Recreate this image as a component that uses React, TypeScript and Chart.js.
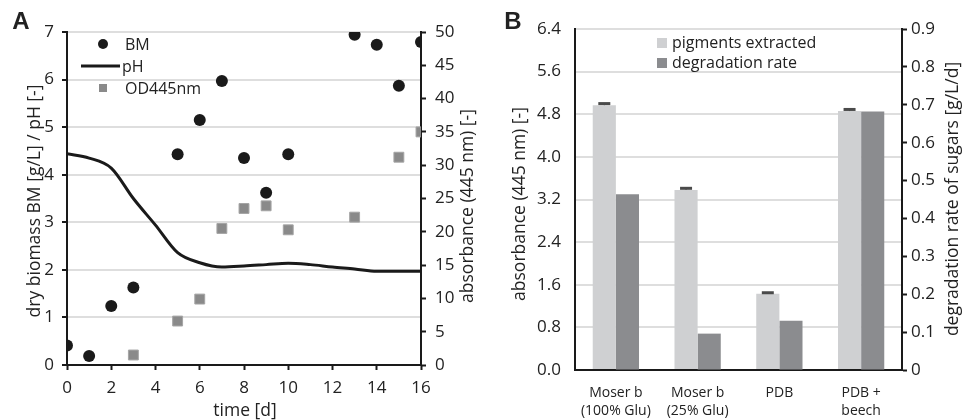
import React, { useEffect, useRef } from "react";
import { Chart, registerables } from "chart.js";
Chart.register(...registerables);

// ---------- Panel A data ----------
const bmDays = [0, 1, 2, 3, 5, 6, 7, 8, 9, 10, 13, 14, 15, 16];
const bmValues = [0.41, 0.19, 1.24, 1.63, 4.43, 5.15, 5.97, 4.35, 3.62, 4.43, 6.94, 6.73, 5.87, 6.79];
const phDays = [0, 1, 2, 3, 4, 5, 6, 7, 8, 9, 10, 11, 12, 13, 14, 15, 16];
const phValues = [4.44, 4.35, 4.14, 3.5, 2.94, 2.36, 2.15, 2.06, 2.08, 2.11, 2.14, 2.11, 2.06, 2.02, 1.97, 1.97, 1.97];
const odDays = [3, 5, 6, 7, 8, 9, 10, 13, 15, 16];
const odValues = [1.5, 6.6, 9.9, 20.5, 23.5, 23.9, 20.3, 22.2, 31.2, 35.0];

// ---------- Panel B data ----------
const media: (string | string[])[] = [["Moser b", "(100% Glu)"], ["Moser b", "(25% Glu)"], "PDB", ["PDB +", "beech"]];
const pigments = [4.97, 3.38, 1.43, 4.86];
const pigmentErr = [0.03, 0.03, 0.02, 0.03];
const degradation = [0.464, 0.096, 0.13, 0.682];

const FONT = "'Open Sans', sans-serif";
const TEXT = "#222222";
const AXIS = "#1a1a1a";
const GRID = "#dedede";
const LIGHT = "#cfd0d2";
const DARK = "#8b8c8f";

Chart.defaults.font.family = FONT;
Chart.defaults.color = TEXT;

type TextItem = { text: string; x: number; y: number; rot?: boolean; font: string; align?: CanvasTextAlign };

function textPlugin(id: string, items: TextItem[]) {
  return {
    id,
    afterDraw(chart: any) {
      const ctx = chart.ctx as CanvasRenderingContext2D;
      ctx.save();
      ctx.fillStyle = TEXT;
      ctx.textBaseline = "middle";
      for (const it of items) {
        ctx.save();
        ctx.font = it.font;
        ctx.textAlign = it.align || "center";
        ctx.translate(it.x, it.y);
        if (it.rot) ctx.rotate(-Math.PI / 2);
        ctx.fillText(it.text, 0, 0);
        ctx.restore();
      }
      ctx.restore();
    },
  };
}

const legendA = {
  id: "legendA",
  afterDraw(chart: any) {
    const ctx = chart.ctx as CanvasRenderingContext2D;
    ctx.save();
    ctx.font = `16px ${FONT}`;
    ctx.textBaseline = "middle";
    ctx.textAlign = "left";
    ctx.fillStyle = AXIS;
    ctx.beginPath();
    ctx.arc(103, 44, 5, 0, Math.PI * 2);
    ctx.fill();
    ctx.fillStyle = TEXT;
    ctx.fillText("BM", 125, 45);
    ctx.strokeStyle = AXIS;
    ctx.lineWidth = 3;
    ctx.beginPath();
    ctx.moveTo(81, 66);
    ctx.lineTo(120, 66);
    ctx.stroke();
    ctx.fillText("pH", 122, 67);
    ctx.fillStyle = "#8a8a8a";
    ctx.fillRect(99, 84, 8, 8);
    ctx.fillStyle = TEXT;
    ctx.fillText("OD445nm", 125, 89);
    ctx.restore();
  },
};

const legendB = {
  id: "legendB",
  afterDraw(chart: any) {
    const ctx = chart.ctx as CanvasRenderingContext2D;
    const off = 487;
    ctx.save();
    ctx.font = `16px ${FONT}`;
    ctx.textBaseline = "middle";
    ctx.textAlign = "left";
    ctx.fillStyle = LIGHT;
    ctx.fillRect(657 - off, 38, 10, 10);
    ctx.fillStyle = DARK;
    ctx.fillRect(657 - off, 58, 10, 10);
    ctx.fillStyle = TEXT;
    ctx.fillText("pigments extracted", 672 - off, 43);
    ctx.fillText("degradation rate", 672 - off, 63);
    ctx.restore();
  },
};

const errorBars = {
  id: "errorBars",
  afterDatasetsDraw(chart: any) {
    const ctx = chart.ctx as CanvasRenderingContext2D;
    const meta = chart.getDatasetMeta(0);
    const scale = chart.scales.y;
    ctx.save();
    ctx.strokeStyle = "#4a4a4a";
    meta.data.forEach((bar: any, i: number) => {
      const yTop = scale.getPixelForValue(pigments[i] + pigmentErr[i]);
      const yv = scale.getPixelForValue(pigments[i]);
      ctx.lineWidth = 1;
      ctx.beginPath();
      ctx.moveTo(bar.x, yv);
      ctx.lineTo(bar.x, yTop);
      ctx.stroke();
      ctx.lineWidth = 3;
      ctx.beginPath();
      ctx.moveTo(bar.x - 6, yTop);
      ctx.lineTo(bar.x + 6, yTop);
      ctx.stroke();
    });
    ctx.restore();
  },
};

const tickFont = { size: 17, family: FONT };
const titleFont = `17.5px ${FONT}`;

function ChartA() {
  const ref = useRef<HTMLCanvasElement>(null);
  useEffect(() => {
    const chart = new Chart(ref.current!, {
      type: "scatter",
      data: {
        datasets: [
          {
            label: "BM",
            data: bmDays.map((d, i) => ({ x: d, y: bmValues[i] })),
            yAxisID: "y",
            pointRadius: 6,
            pointBackgroundColor: AXIS,
            pointBorderWidth: 0,
            order: 1,
          },
          {
            label: "pH",
            data: phDays.map((d, i) => ({ x: d, y: phValues[i] })),
            yAxisID: "y",
            showLine: true,
            borderColor: AXIS,
            borderWidth: 3,
            pointRadius: 0,
            cubicInterpolationMode: "monotone",
            order: 3,
          } as any,
          {
            label: "OD445nm",
            data: odDays.map((d, i) => ({ x: d, y: odValues[i] })),
            yAxisID: "y1",
            pointStyle: "rect",
            pointRadius: 7,
            pointBackgroundColor: "#8a8a8a",
            pointBorderColor: "#a5a5a5",
            pointBorderWidth: 1,
            order: 2,
          },
        ],
      },
      options: {
        animation: false,
        responsive: false,
        layout: { padding: { top: 32, left: 0, right: 0, bottom: 0 } },
        plugins: { legend: { display: false }, tooltip: { enabled: false } },
        scales: {
          x: {
            type: "linear",
            min: 0,
            max: 16,
            ticks: { stepSize: 2, padding: 8, color: TEXT, font: tickFont },
            grid: { drawOnChartArea: false, tickLength: 5, tickColor: AXIS, tickWidth: 2 },
            border: { color: AXIS, width: 2 },
            afterFit: (s: any) => { s.height = 55; },
          },
          y: {
            position: "left",
            min: 0,
            max: 7,
            ticks: { stepSize: 1, padding: 8, color: TEXT, font: tickFont },
            grid: { color: GRID, lineWidth: 2, tickLength: 5, tickColor: AXIS, tickWidth: 2 },
            border: { color: AXIS, width: 2 },
            afterFit: (s: any) => { s.width = 67; },
          },
          y1: {
            position: "right",
            min: 0,
            max: 50,
            ticks: { stepSize: 5, padding: 9, color: TEXT, font: tickFont },
            grid: { drawOnChartArea: false, tickLength: 5, tickColor: AXIS, tickWidth: 2 },
            border: { color: AXIS, width: 2 },
            afterFit: (s: any) => { s.width = 66; },
          },
        },
      } as any,
      plugins: [
        legendA,
        textPlugin("textA", [
          { text: "A", x: 21, y: 22, font: `bold 24px 'Liberation Sans', Arial, sans-serif` },
          { text: "dry biomass BM [g/L] / pH [-]", x: 35, y: 201, rot: true, font: titleFont },
          { text: "absorbance (445 nm) [-]", x: 468, y: 206, rot: true, font: titleFont },
          { text: "time [d]", x: 245, y: 411, font: titleFont },
        ]),
      ],
    });
    return () => chart.destroy();
  }, []);
  return <canvas ref={ref} width={487} height={420} style={{ position: "absolute", left: 0, top: 0 }} />;
}

function ChartB() {
  const ref = useRef<HTMLCanvasElement>(null);
  useEffect(() => {
    const off = 487;
    const chart = new Chart(ref.current!, {
      type: "bar",
      data: {
        labels: media as any,
        datasets: [
          {
            label: "pigments extracted",
            data: pigments,
            yAxisID: "y",
            backgroundColor: LIGHT,
            categoryPercentage: 0.566,
            barPercentage: 1,
          },
          {
            label: "degradation rate",
            data: degradation,
            yAxisID: "y1",
            backgroundColor: DARK,
            categoryPercentage: 0.566,
            barPercentage: 1,
          },
        ],
      },
      options: {
        animation: false,
        responsive: false,
        layout: { padding: { top: 29, left: 0, right: 0, bottom: 0 } },
        plugins: { legend: { display: false }, tooltip: { enabled: false } },
        scales: {
          x: {
            ticks: { padding: 14, color: TEXT, font: { size: 14, family: FONT, lineHeight: 1.3 }, maxRotation: 0 },
            grid: { display: false, drawTicks: false },
            border: { color: AXIS, width: 2 },
            afterFit: (s: any) => { s.height = 50; },
          },
          y: {
            position: "left",
            min: 0,
            max: 6.4,
            ticks: { stepSize: 0.8, padding: 14, color: TEXT, font: tickFont, callback: (v: any) => Number(v).toFixed(1) },
            grid: { color: GRID, lineWidth: 2, drawTicks: false },
            border: { color: AXIS, width: 2 },
            afterFit: (s: any) => { s.width = 88; },
          },
          y1: {
            position: "right",
            min: 0,
            max: 0.9,
            ticks: {
              stepSize: 0.1,
              padding: 4,
              color: TEXT,
              font: tickFont,
              callback: (v: any) => (Math.abs(v) < 1e-9 ? "0" : Number(v).toFixed(1)),
            },
            grid: { drawOnChartArea: false, tickLength: 5, tickColor: AXIS, tickWidth: 2 },
            border: { color: AXIS, width: 2 },
            afterFit: (s: any) => { s.width = 61; },
          },
        },
      } as any,
      plugins: [
        errorBars,
        legendB,
        textPlugin("textB", [
          { text: "B", x: 513 - off, y: 22, font: `bold 24px 'Liberation Sans', Arial, sans-serif` },
          { text: "absorbance (445 nm) [-]", x: 520 - off, y: 204, rot: true, font: titleFont },
          { text: "degradation rate of sugars [g/L/d]", x: 953 - off, y: 199, rot: true, font: titleFont },
        ]),
      ],
    });
    return () => chart.destroy();
  }, []);
  return <canvas ref={ref} width={476} height={420} style={{ position: "absolute", left: 487, top: 0 }} />;
}

export default function App() {
  return (
    <div style={{ position: "absolute", left: 0, top: 0, width: 963, height: 420, background: "#fff", overflow: "hidden" }}>
      <ChartA />
      <ChartB />
    </div>
  );
}
